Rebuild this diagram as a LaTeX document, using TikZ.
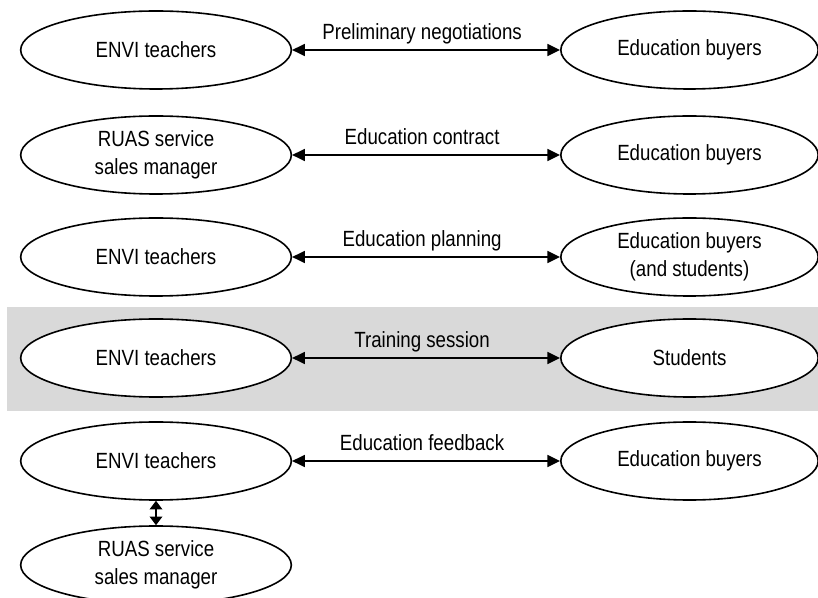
\documentclass[tikz,border=0pt]{standalone}
\usepackage{fontspec}
\setmainfont{Liberation Sans}[FakeStretch=0.85]
\usetikzlibrary{shapes.geometric, arrows.meta}

\begin{document}
\begin{tikzpicture}[x=0.75pt, y=-0.75pt,
		font = \fontsize{16.5}{21}\selectfont,
		party/.style = {draw, ellipse, line width = 1.2pt, fill = white, align = center,
			minimum width = 203pt, minimum height = 58.5pt, inner sep = 0pt},
		buyer/.style = {party, minimum width = 193pt},
		link/.style = {{Triangle[length = 9.5pt, width = 9pt]}-{Triangle[length = 9.5pt, width = 9pt]}, line width = 1.2pt},
		shortlink/.style = {{Triangle[length = 6.5pt, width = 9.5pt]}-{Triangle[length = 6.5pt, width = 9.5pt]}, line width = 1.2pt},
		tag/.style = {midway, anchor = base, yshift = 7.5pt, xshift = -3pt}]
		
		%page size
		\useasboundingbox (0,0) rectangle (818,598);
		
		%highlighted training row
		\fill [gray!30] (7,307) rectangle (818,411);
		
		%teacher side
		\node [party] (t1) at (156,50) {ENVI teachers};
		\node [party] (s2) at (156,155) {RUAS service\\sales manager};
		\node [party] (t3) at (156,257) {ENVI teachers};
		\node [party] (t4) at (156,358) {ENVI teachers};
		\node [party] (t5) at (156,461) {ENVI teachers};
		\node [party] (s6) at (156,565) {RUAS service\\sales manager};
		
		%buyer side
		\node [buyer] (b1) at (689.5,50) {Education buyers};
		\node [buyer] (b2) at (689.5,155) {Education buyers};
		\node [buyer] (b3) at (689.5,257) {Education buyers\\(and students)};
		\node [buyer] (b4) at (689.5,358) {Students};
		\node [buyer] (b5) at (689.5,461) {Education buyers};
		
		%interactions
		\draw [link] (t1) -- (b1) node [tag] {Preliminary negotiations};
		\draw [link] (s2) -- (b2) node [tag] {Education contract};
		\draw [link] (t3) -- (b3) node [tag] {Education planning};
		\draw [link] (t4) -- (b4) node [tag] {Training session};
		\draw [link] (t5) -- (b5) node [tag] {Education feedback};
		
		\draw [shortlink] (t5) -- (s6);
	\end{tikzpicture}
\end{document}
